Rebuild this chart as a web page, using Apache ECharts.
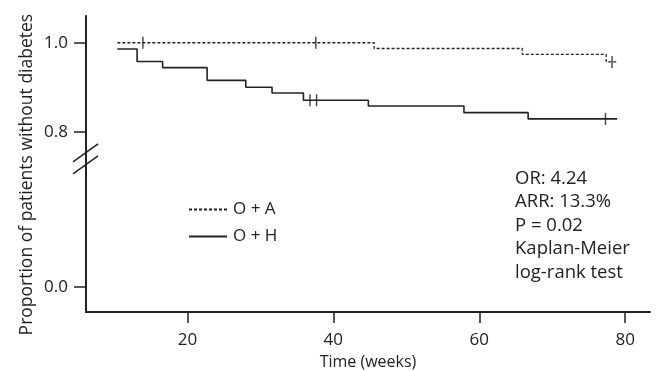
<!DOCTYPE html>
<html>
<head>
<meta charset="utf-8">
<script src="https://cdn.jsdelivr.net/npm/echarts@6/dist/echarts.min.js"></script>
<style>
  html, body { margin: 0; padding: 0; background: #fff; }
  #chart { width: 657px; height: 371px; }
</style>
</head>
<body>
<div id="chart"></div>
<script>
// O + A (dashed) Kaplan-Meier steps
const timesOA = [10.4, 45.6, 65.9, 77.4, 78.8];
const survOA = [1.0, 0.987, 0.974, 0.957, 0.957];
const censorTimesOA = [13.9, 37.6, 78.2];
const censorSurvOA = [1.0, 1.0, 0.957];

// O + H (solid)
const timesOH = [10.4, 13.1, 16.6, 22.7, 28.0, 31.6, 35.9, 44.8, 57.9, 66.7, 78.9];
const survOH = [0.986, 0.958, 0.944, 0.9155, 0.900, 0.887, 0.871, 0.858, 0.843, 0.829, 0.829];
const censorTimesOH = [36.8, 37.7, 77.3];
const censorSurvOH = [0.871, 0.871, 0.829];

const xTicks = [20, 40, 60, 80];
const yTicks = [0.0, 0.8, 1.0];
const statsLines = ['OR: 4.24', 'ARR: 13.3%', 'P = 0.02', 'Kaplan-Meier', 'log-rank test'];

// broken y axis: values >= 0.8 linear, below the break compressed
const BREAK_AT = 0.8;
const ZERO_POS = 0.4517;
function toAxis(v) {
  if (v >= BREAK_AT) return v;
  return ZERO_POS + (BREAK_AT - ZERO_POS) * (v / BREAK_AT);
}
function fromAxis(c) {
  if (c >= BREAK_AT - 1e-9) return c;
  return BREAK_AT * (c - ZERO_POS) / (BREAK_AT - ZERO_POS);
}

const pairs = (xs, ys) => xs.map((x, i) => [x, toAxis(ys[i])]);

const font = '"Open Sans", "Noto Sans", sans-serif';
const ink = '#222';
const chart = echarts.init(document.getElementById('chart'), null, { renderer: 'canvas' });

chart.setOption({
  animation: false,
  backgroundColor: '#fff',
  textStyle: { fontFamily: font },
  grid: { left: 86, right: 7, top: 16, bottom: 59, containLabel: false, outerBoundsMode: 'none' },
  legend: {
    data: ['O + A', 'O + H'],
    orient: 'vertical',
    left: 183,
    top: 196,
    itemWidth: 38,
    itemHeight: 14,
    itemGap: 10,
    itemStyle: { opacity: 0 },
    textStyle: { fontSize: 17, color: ink, fontFamily: font, padding: [0, 0, 0, 1] }
  },
  xAxis: {
    type: 'value',
    min: 6.1,
    max: 83.4,
    name: 'Time (weeks)',
    nameLocation: 'middle',
    nameGap: 42,
    nameTextStyle: { fontSize: 16, color: ink },
    axisLine: { lineStyle: { color: ink, width: 2 } },
    axisTick: { show: true, customValues: xTicks, length: 11, lineStyle: { color: ink, width: 1.5 } },
    axisLabel: { customValues: xTicks, fontSize: 17, color: ink, margin: 20 },
    splitLine: { show: false }
  },
  yAxis: {
    type: 'value',
    min: 0.3955,
    max: 1.06,
    axisLine: { show: true, lineStyle: { color: ink, width: 2 } },
    axisTick: { show: true, customValues: yTicks.map(toAxis), length: 12, lineStyle: { color: ink, width: 1.5 } },
    axisLabel: {
      customValues: yTicks.map(toAxis),
      fontSize: 17,
      color: ink,
      margin: 18,
      formatter: (c) => fromAxis(c).toFixed(1)
    },
    splitLine: { show: false }
  },
  series: [
    {
      name: 'O + A',
      type: 'line',
      step: 'end',
      symbol: 'none',
      data: pairs(timesOA, survOA),
      lineStyle: { color: ink, width: 1.3, type: [3, 2] },
      itemStyle: { color: ink }
    },
    {
      name: 'O + H',
      type: 'line',
      step: 'end',
      symbol: 'none',
      data: pairs(timesOH, survOH),
      lineStyle: { color: ink, width: 1.6 },
      itemStyle: { color: ink }
    },
    {
      name: 'censor',
      type: 'scatter',
      symbol: 'rect',
      symbolSize: [1.5, 12],
      itemStyle: { color: ink },
      data: pairs(censorTimesOA, censorSurvOA).concat(pairs(censorTimesOH, censorSurvOH))
    }
  ]
});

// axis break marks, rotated y title and stats text
function addDecorations() {
  const p = chart.convertToPixel({ gridIndex: 0 }, [6.1, toAxis(0.66)]);
  const x = p[0], y = p[1];
  const seg = (dy) => ({
    type: 'line',
    shape: { x1: x - 13, y1: y + dy + 9, x2: x + 12, y2: y + dy - 9 },
    style: { stroke: ink, lineWidth: 1.5 }
  });
  const statsPos = chart.convertToPixel({ gridIndex: 0 }, [64.9, toAxis(0.62)]);
  const mid = chart.convertToPixel({ gridIndex: 0 }, [6.1, toAxis(0.6)]);
  chart.setOption({
    graphic: [
      seg(-6), seg(6),
      {
        type: 'text',
        x: 27,
        y: mid[1] + 4,
        rotation: Math.PI / 2,
        style: {
          text: 'Proportion of patients without diabetes',
          fontSize: 17.5,
          fill: ink,
          fontFamily: font,
          align: 'center',
          verticalAlign: 'middle'
        }
      },
      {
        type: 'text',
        x: statsPos[0],
        y: statsPos[1],
        style: {
          text: statsLines.join('\n'),
          fontSize: 18.5,
          lineHeight: 23.5,
          fill: ink,
          fontFamily: font
        }
      }
    ]
  });
}
addDecorations();
</script>
</body>
</html>
